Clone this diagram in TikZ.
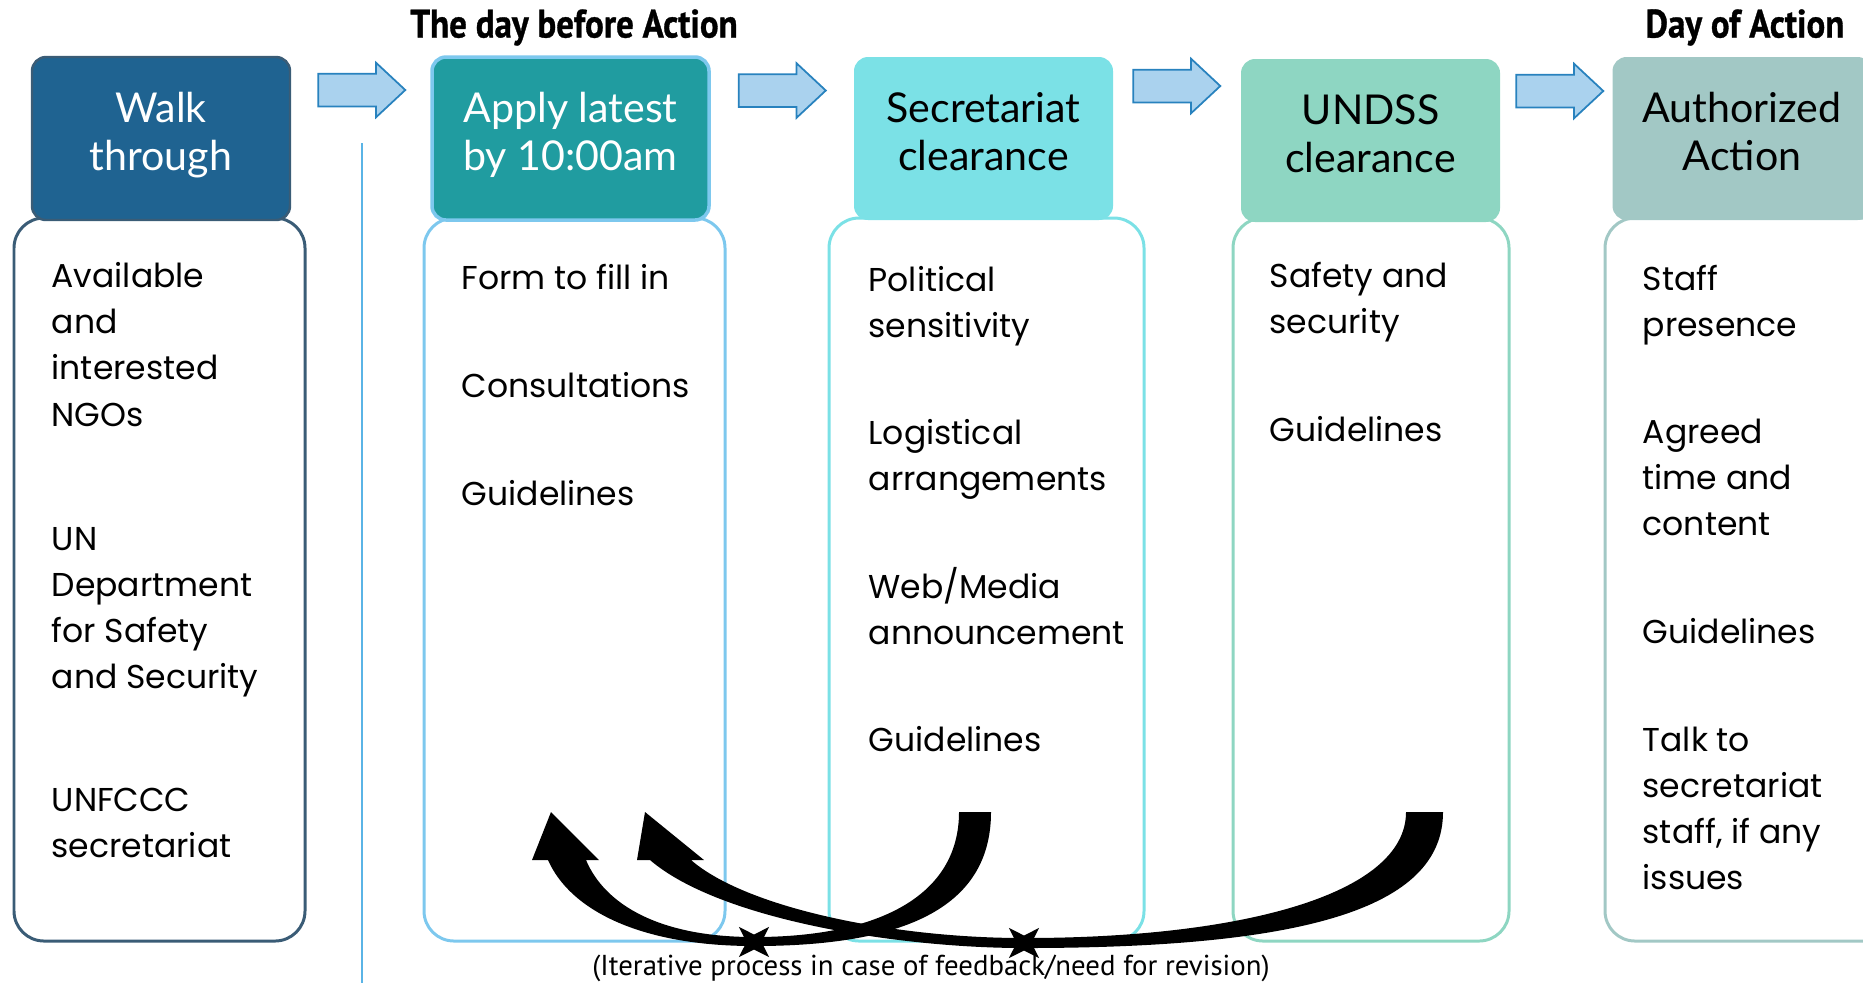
\documentclass[tikz,border=0pt]{standalone}
\usepackage{fontspec}
\setmainfont{Poppins}
\newfontfamily\hdrfont{Lato}
\newfontfamily\titlefont[FakeStretch=0.88,FakeBold=0.8]{PT Sans}
\newfontfamily\notefont{PT Sans}
\usetikzlibrary{shapes.arrows,shapes.geometric}

\definecolor{walkfill}{RGB}{31,99,145}
\definecolor{walkedge}{RGB}{58,92,118}
\definecolor{applyfill}{RGB}{32,156,160}
\definecolor{applyedge}{RGB}{125,200,238}
\definecolor{secrfill}{RGB}{123,225,230}
\definecolor{undssfill}{RGB}{142,214,194}
\definecolor{authfill}{RGB}{162,200,197}
\definecolor{arrowfill}{RGB}{170,210,238}
\definecolor{arrowedge}{RGB}{40,130,190}
\definecolor{dividerblue}{RGB}{90,180,230}

\begin{document}
\begin{tikzpicture}
[y = -1cm,
 hdr/.style = {rounded corners=0.14cm, minimum width=2.59cm, minimum height=1.63cm, align=center, inner sep=0pt, font=\hdrfont\fontsize{11.7}{13.5}\selectfont},
 body/.style = {draw, rounded corners=0.3cm, line width=0.85pt, minimum height=7.23cm, inner sep=0pt},
 bodytext/.style = {anchor=west, align=left, inner sep=0pt, font=\fontsize{9.4}{13.1}\selectfont},
 flowarrow/.style = {single arrow, draw=arrowedge, fill=arrowfill, line width=0.5pt, minimum height=0.87cm, minimum width=0.53cm, single arrow head extend=0.11cm, single arrow tip angle=86, inner xsep=0pt, inner ysep=0.155cm},
 daytitle/.style = {inner sep=0pt, font=\titlefont\bfseries\fontsize{11.3}{13}\selectfont},
 loopback/.style = {fill=black},
 knot/.style = {star, star points=4, star point ratio=0.35, fill=black, inner sep=0pt, minimum size=0.15cm}
 ]
\useasboundingbox (0,0) rectangle (18.63,9.83);
\clip (0,0) rectangle (18.63,9.83);

% body boxes
\node [body, draw=walkedge, minimum width=2.91cm] (walkbody) at (1.595,5.795) {};
\node [body, draw=applyedge, minimum width=3.01cm] (applybody) at (5.745,5.795) {};
\node [body, draw=secrfill, minimum width=3.15cm] (secrbody) at (9.865,5.795) {};
\node [body, draw=undssfill, minimum width=2.76cm] (undssbody) at (13.71,5.795) {};
\node [body, draw=authfill, minimum width=3.00cm] (authbody) at (17.55,5.795) {};

% headers
\node [hdr, fill=walkfill, draw=walkedge, line width=0.7pt, minimum width=2.58cm, text=white] (walk) at (1.61,1.385) {Walk\\through\strut};
\node [hdr, fill=applyfill, draw=applyedge, line width=1pt, minimum width=2.77cm, text=white] (apply) at (5.705,1.385) {Apply latest\\by 10:00am\strut};
\node [hdr, fill=secrfill] (secr) at (9.835,1.385) {Secretariat\\clearance\strut};
\node [hdr, fill=undssfill] (undss) at (13.705,1.405) {UNDSS\\clearance\strut};
\node [hdr, fill=authfill] (auth) at (17.42,1.385) {Authorized\\Action\strut};

% arrows between headers
\node [flowarrow] (step1) at (3.53,0.90) {};
\node [flowarrow] (step2) at (7.735,0.905) {};
\node [flowarrow] (step3) at (11.68,0.86) {};
\node [flowarrow] (step4) at (15.51,0.91) {};

% titles
\node [daytitle, anchor=base] (daybefore) at (5.74,0.375) {The day before Action};
\node [daytitle, anchor=base east] (dayof) at (18.45,0.375) {Day of Action};

\draw [dividerblue, line width=0.6pt] (3.62,1.43) -- (3.62,9.83);

% walk through
\node [bodytext] (ngos) at (0.51,3.445) {Available\\and\\interested\\NGOs};
\node [bodytext] (undssdept) at (0.51,6.125) {UN\\Department\\for Safety\\and Security};
\node [bodytext] (unfccc) at (0.51,8.23) {UNFCCC\\secretariat};
% apply
\node [bodytext] (form) at (4.61,2.77) {Form to fill in};
\node [bodytext] (consult) at (4.61,3.85) {Consultations};
\node [bodytext] (guideapply) at (4.61,4.93) {Guidelines};
% secretariat
\node [bodytext] (political) at (8.68,3.06) {Political\\sensitivity};
\node [bodytext] (logistic) at (8.68,4.59) {Logistical\\arrangements};
\node [bodytext] (webmedia) at (8.68,6.06) {Web/Media\\announcement};
\node [bodytext] (guidesecr) at (8.68,7.39) {Guidelines};
% undss
\node [bodytext] (safety) at (12.69,3.025) {Safety and\\security};
\node [bodytext] (guideundss) at (12.69,4.29) {Guidelines};
% action
\node [bodytext] (staff) at (16.42,3.055) {Staff\\presence};
\node [bodytext] (agreed) at (16.42,4.776) {Agreed\\time and\\content};
\node [bodytext] (guideauth) at (16.42,6.31) {Guidelines};
\node [bodytext] (talk) at (16.42,8.08) {Talk to\\secretariat\\staff, if any\\issues};

% feedback loops
\fill [loopback] (9.91,8.12) .. controls (9.91,9.10) and (9.00,9.46) .. (7.54,9.46)
  .. controls (6.40,9.46) and (5.70,9.10) .. (5.48,8.60) -- (5.32,8.60) -- (5.51,8.12) -- (5.99,8.60) -- (5.86,8.60)
  .. controls (6.05,9.05) and (6.60,9.37) .. (7.54,9.37) .. controls (8.80,9.37) and (9.59,8.95) .. (9.59,8.12) -- cycle;
\fill [loopback] (14.43,8.12) .. controls (14.43,9.10) and (13.00,9.48) .. (10.24,9.48)
  .. controls (9.00,9.48) and (7.20,9.20) .. (6.50,8.60) -- (6.37,8.60) -- (6.45,8.12) -- (7.04,8.60) -- (6.91,8.60)
  .. controls (7.45,9.07) and (8.90,9.38) .. (10.24,9.38) .. controls (12.40,9.38) and (14.06,8.95) .. (14.06,8.12) -- cycle;
\node [knot] (knot1) at (7.54,9.42) {};
\node [knot] (knot2) at (10.24,9.43) {};

\node [anchor=base, inner sep=0pt, font=\notefont\fontsize{8.2}{10}\selectfont] (iter) at (9.31,9.75) {(Iterative process in case of feedback/need for revision)};
\end{tikzpicture}
\end{document}
